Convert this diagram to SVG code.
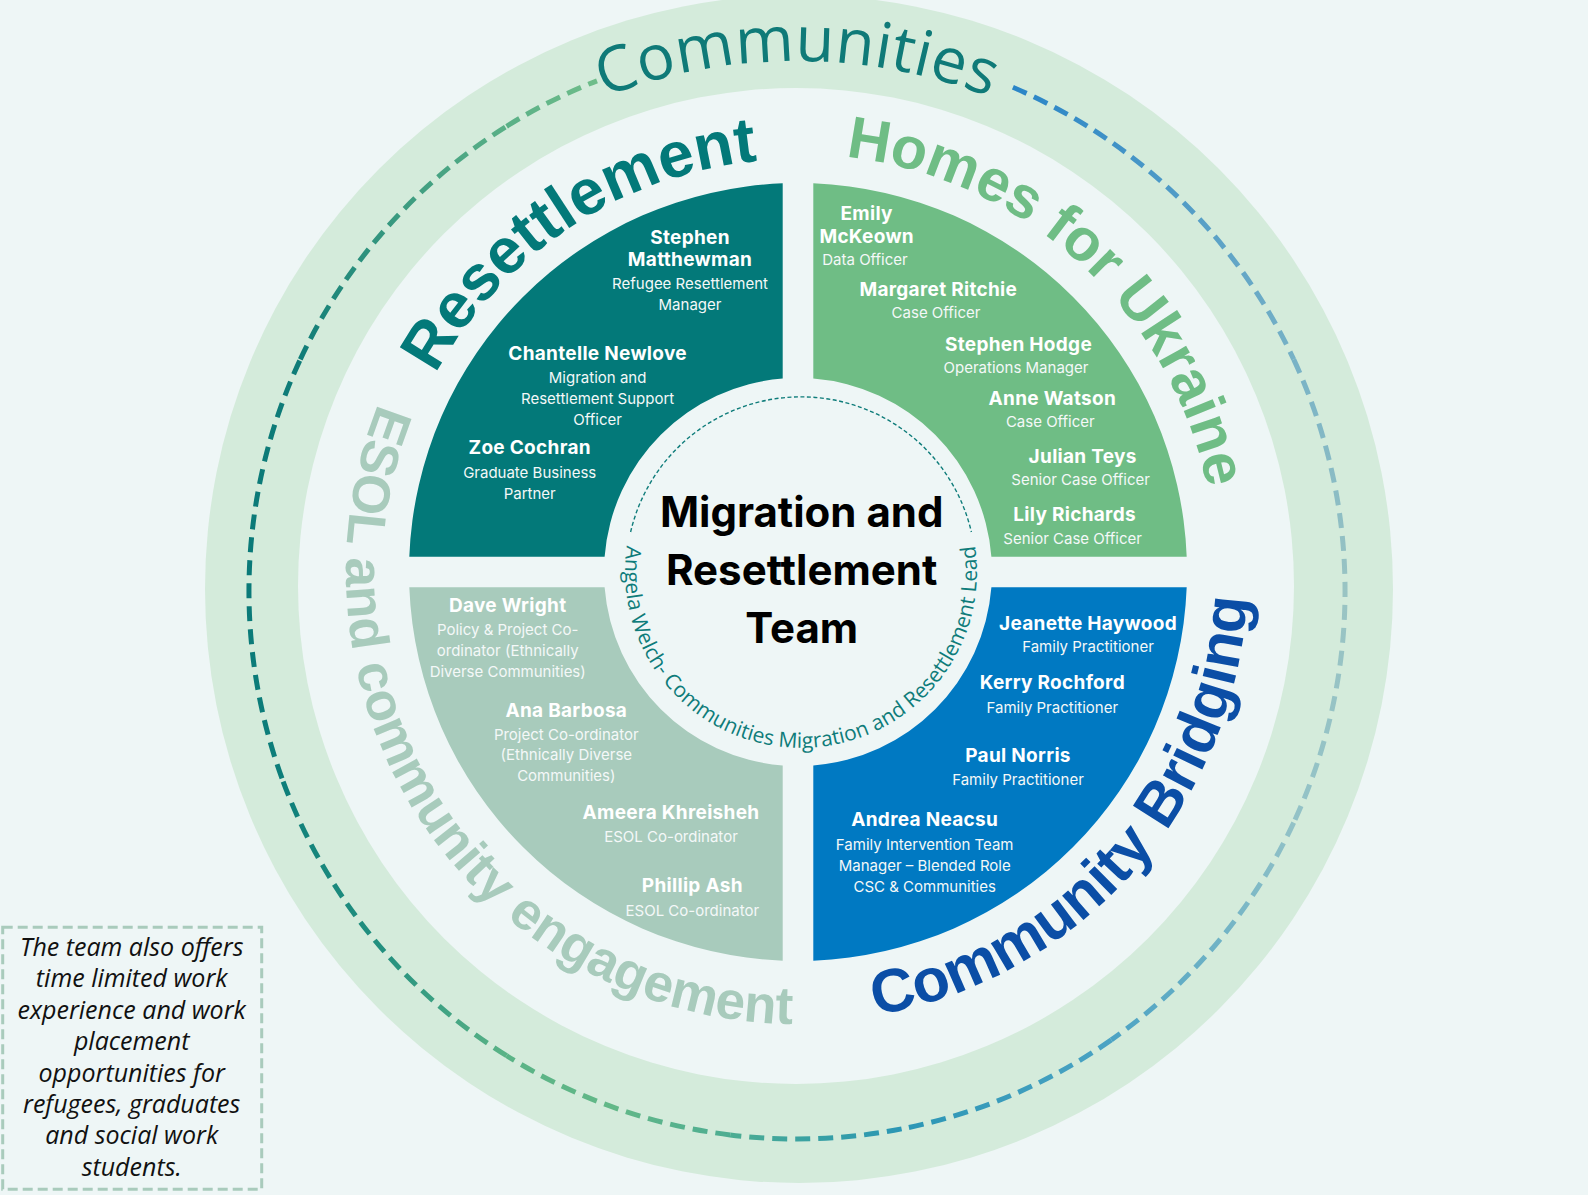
<svg xmlns="http://www.w3.org/2000/svg" width="1588" height="1195" viewBox="0 0 1588 1195">
<defs>
<style>
.nm{font-family:Inter,"Noto Sans",sans-serif;font-weight:700;font-size:19px;fill:#ffffff;text-anchor:middle;letter-spacing:0.3px}
.rl{font-family:Inter,"Noto Sans",sans-serif;font-weight:400;font-size:15px;fill:#f4f8f8;text-anchor:middle}
.lbl{font-family:"Liberation Sans",Arial,sans-serif;font-weight:700}
.note{font-family:"Open Sans","Noto Sans",sans-serif;font-style:italic;font-size:25px;fill:#111111;text-anchor:middle}
.ttl{font-family:Inter,"Noto Sans",sans-serif;font-weight:700;font-size:42px;fill:#000000;text-anchor:middle}
.dash{fill:none;stroke-width:5;stroke-dasharray:15 8}
</style>
<path id="pComm" d="M 338,326 A 530 530 0 0 1 1256,326"/>
<path id="pRes" d="M 387.7,525.2 A 413 413 0 0 1 915.3,176"/>
<path id="pHom" d="M 739.8,158.1 A 418 418 0 0 1 1215.7,586.6"/>
<path id="pEsol" d="M 391.1,375.3 A 452 452 0 0 0 831.1,1022.8"/>
<path id="pCb" d="M 710.6,1013.4 A 450 450 0 0 0 1224,427"/>
<path id="pLead" d="M 628.2,538.4 A 176 176 0 1 0 973.8,538.4"/>
<linearGradient id="g1" gradientUnits="userSpaceOnUse" x1="1012.9" y1="87.3" x2="1293.7" y2="359.4"><stop offset="0" stop-color="#2A85C7"/><stop offset="1" stop-color="#78B2C6"/></linearGradient>
<linearGradient id="g2" gradientUnits="userSpaceOnUse" x1="1293.7" y1="359.4" x2="1293.7" y2="822.6"><stop offset="0" stop-color="#78B2C6"/><stop offset="0.5" stop-color="#9AC4C3"/><stop offset="1" stop-color="#93C2C7"/></linearGradient>
<linearGradient id="g3" gradientUnits="userSpaceOnUse" x1="1293.7" y1="822.6" x2="1111.3" y2="1039.9"><stop offset="0" stop-color="#93C2C7"/><stop offset="1" stop-color="#4CA3C4"/></linearGradient>
<linearGradient id="g4" gradientUnits="userSpaceOnUse" x1="1111.3" y1="1039.9" x2="901.6" y2="1128.9"><stop offset="0" stop-color="#4CA3C4"/><stop offset="1" stop-color="#2B96B5"/></linearGradient>
<linearGradient id="g5" gradientUnits="userSpaceOnUse" x1="901.6" y1="1128.9" x2="730.2" y2="1134.9"><stop offset="0" stop-color="#2B96B5"/><stop offset="0.5" stop-color="#38A0A4"/><stop offset="1" stop-color="#4DAD92"/></linearGradient>
<linearGradient id="g6" gradientUnits="userSpaceOnUse" x1="730.2" y1="1134.9" x2="506.6" y2="1055.7"><stop offset="0" stop-color="#4DAD92"/><stop offset="0.5" stop-color="#63B888"/><stop offset="1" stop-color="#5AB386"/></linearGradient>
<linearGradient id="g7" gradientUnits="userSpaceOnUse" x1="506.6" y1="1055.7" x2="282" y2="778.4"><stop offset="0" stop-color="#5AB386"/><stop offset="0.45" stop-color="#23907F"/><stop offset="1" stop-color="#0D7E7A"/></linearGradient>
<linearGradient id="g8" gradientUnits="userSpaceOnUse" x1="282" y1="778.4" x2="300.3" y2="359.4"><stop offset="0" stop-color="#0D7E7A"/><stop offset="0.5" stop-color="#0A7978"/><stop offset="1" stop-color="#0F7C78"/></linearGradient>
<linearGradient id="g9" gradientUnits="userSpaceOnUse" x1="300.3" y1="359.4" x2="506.6" y2="126.3"><stop offset="0" stop-color="#0F7C78"/><stop offset="0.55" stop-color="#3A9A80"/><stop offset="1" stop-color="#5AB087"/></linearGradient>
<linearGradient id="g10" gradientUnits="userSpaceOnUse" x1="506.6" y1="126.3" x2="597" y2="80.8"><stop offset="0" stop-color="#5AB087"/><stop offset="1" stop-color="#6FBD8A"/></linearGradient>
</defs>

<rect x="0" y="0" width="1588" height="1195" fill="#EEF6F6"/>

<g id="outer-ring">
<circle cx="799" cy="589" r="594" fill="#D4EBDB"/>
<circle cx="796" cy="586" r="498" fill="#EEF6F6"/>
</g>

<g id="connectors">
<path class="dash" stroke="url(#g1)" d="M 1012.9,87.3 A 548 548 0 0 1 1293.7,359.4"/>
<path class="dash" stroke="url(#g2)" d="M 1293.7,359.4 A 548 548 0 0 1 1293.7,822.6"/>
<path class="dash" stroke="url(#g3)" d="M 1293.7,822.6 A 548 548 0 0 1 1111.3,1039.9"/>
<path class="dash" stroke="url(#g4)" d="M 1111.3,1039.9 A 548 548 0 0 1 901.6,1128.9"/>
<path class="dash" stroke="url(#g5)" d="M 901.6,1128.9 A 548 548 0 0 1 730.2,1134.9"/>
<path class="dash" stroke="url(#g6)" d="M 730.2,1134.9 A 548 548 0 0 1 506.6,1055.7"/>
<path class="dash" stroke="url(#g7)" d="M 506.6,1055.7 A 548 548 0 0 1 282,778.4"/>
<path class="dash" stroke="url(#g8)" d="M 282,778.4 A 548 548 0 0 1 300.3,359.4"/>
<path class="dash" stroke="url(#g9)" d="M 300.3,359.4 A 548 548 0 0 1 506.6,126.3"/>
<path class="dash" stroke="url(#g10)" d="M 506.6,126.3 A 548 548 0 0 1 597,80.8"/>
<path fill="none" stroke="#0E7C7A" stroke-width="1.4" stroke-dasharray="4 2.5" d="M 630.6,532 A 175 175 0 0 1 971.4,532"/>
</g>

<g id="communities-label">
<text font-family="'Open Sans','Noto Sans',sans-serif" font-size="63" fill="#0F7A78" letter-spacing="0.3"><textPath href="#pComm" startOffset="50%" text-anchor="middle">Communities</textPath></text>
</g>

<g id="resettlement">
<path fill="#037979" d="M 782.7,183.3 L 782.7,378.6 A 194 194 0 0 0 604.6,556.7 L 409.3,556.7 A 389 389 0 0 1 782.7,183.3 Z"/>
<text class="lbl" font-size="64" fill="#037979"><textPath href="#pRes" startOffset="50%" text-anchor="middle">Resettlement</textPath></text>
<text class="nm" x="690" y="243.5">Stephen</text>
<text class="nm" x="690" y="266">Matthewman</text>
<text class="rl" x="690" y="289">Refugee Resettlement</text>
<text class="rl" x="690" y="310">Manager</text>
<text class="nm" x="597.6" y="359.5">Chantelle Newlove</text>
<text class="rl" x="597.6" y="382.5">Migration and</text>
<text class="rl" x="597.6" y="403.5">Resettlement Support</text>
<text class="rl" x="597.6" y="424.5">Officer</text>
<text class="nm" x="529.7" y="454">Zoe Cochran</text>
<text class="rl" x="529.7" y="478">Graduate Business</text>
<text class="rl" x="529.7" y="498.5">Partner</text>
</g>

<g id="homes-for-ukraine">
<path fill="#6FBD85" d="M 813.3,183.3 A 389 389 0 0 1 1186.7,556.7 L 991.4,556.7 A 194 194 0 0 0 813.3,378.6 Z"/>
<text class="lbl" font-size="59" fill="#6FBD85"><textPath href="#pHom" startOffset="50.5%" text-anchor="middle">Homes for Ukraine</textPath></text>
<text class="nm" x="866.7" y="219.5">Emily</text>
<text class="nm" x="866.7" y="243">McKeown</text>
<text class="rl" x="865" y="265">Data Officer</text>
<text class="nm" x="938.3" y="296">Margaret Ritchie</text>
<text class="rl" x="936" y="318">Case Officer</text>
<text class="nm" x="1018.5" y="351">Stephen Hodge</text>
<text class="rl" x="1016" y="373">Operations Manager</text>
<text class="nm" x="1052.3" y="405">Anne Watson</text>
<text class="rl" x="1050.3" y="426.5">Case Officer</text>
<text class="nm" x="1082.7" y="463">Julian Teys</text>
<text class="rl" x="1080.6" y="485.3">Senior Case Officer</text>
<text class="nm" x="1074.6" y="521">Lily Richards</text>
<text class="rl" x="1072.6" y="544">Senior Case Officer</text>
</g>

<g id="esol-community-engagement">
<path fill="#A8CBBC" d="M 409.3,587.3 L 604.6,587.3 A 194 194 0 0 0 782.7,765.4 L 782.7,960.7 A 389 389 0 0 1 409.3,587.3 Z"/>
<text class="lbl" font-size="53" fill="#A8CBBC"><textPath href="#pEsol" startOffset="49.6%" text-anchor="middle">ESOL and community engagement</textPath></text>
<text class="nm" x="507.7" y="612.2">Dave Wright</text>
<text class="rl" x="507.7" y="635.2">Policy &amp; Project Co-</text>
<text class="rl" x="507.7" y="656.2">ordinator (Ethnically</text>
<text class="rl" x="507.7" y="677.3">Diverse Communities)</text>
<text class="nm" x="566.3" y="716.7">Ana Barbosa</text>
<text class="rl" x="566.3" y="739.7">Project Co-ordinator</text>
<text class="rl" x="566.3" y="760.3">(Ethnically Diverse</text>
<text class="rl" x="566.3" y="781.4">Communities)</text>
<text class="nm" x="671" y="818.9">Ameera Khreisheh</text>
<text class="rl" x="671" y="841.8">ESOL Co-ordinator</text>
<text class="nm" x="692.3" y="892.4">Phillip Ash</text>
<text class="rl" x="692.3" y="915.7">ESOL Co-ordinator</text>
</g>

<g id="community-bridging">
<path fill="#0079C2" d="M 813.3,765.4 L 813.3,960.7 A 389 389 0 0 0 1186.7,587.3 L 991.4,587.3 A 194 194 0 0 1 813.3,765.4 Z"/>
<text class="lbl" font-size="61" fill="#0B4EA6"><textPath href="#pCb" startOffset="49.6%" text-anchor="middle">Community Bridging</textPath></text>
<text class="nm" x="1088" y="630.2">Jeanette Haywood</text>
<text class="rl" x="1088" y="652.4">Family Practitioner</text>
<text class="nm" x="1052.3" y="688.8">Kerry Rochford</text>
<text class="rl" x="1052.3" y="712.5">Family Practitioner</text>
<text class="nm" x="1018" y="762.2">Paul Norris</text>
<text class="rl" x="1018" y="785.2">Family Practitioner</text>
<text class="nm" x="924.7" y="825.8">Andrea Neacsu</text>
<text class="rl" x="924.7" y="849.9">Family Intervention Team</text>
<text class="rl" x="924.7" y="870.6">Manager – Blended Role</text>
<text class="rl" x="924.7" y="891.6">CSC &amp; Communities</text>
</g>

<g id="team-centre">
<text class="ttl" x="801.7" y="527.3">Migration and</text>
<text class="ttl" x="801.7" y="585">Resettlement</text>
<text class="ttl" x="801.7" y="642.7">Team</text>
<text font-family="'Open Sans','Noto Sans',sans-serif" font-size="21" fill="#0E7C7A"><textPath href="#pLead" startOffset="50%" text-anchor="middle">Angela Welch- Communities Migration and Resettlement Lead</textPath></text>
</g>

<g id="note">
<rect x="2.7" y="927.3" width="259" height="262" fill="none" stroke="#A9CBBC" stroke-width="3" stroke-dasharray="10 5"/>
<text class="note" x="131.7" y="956">The team also offers</text>
<text class="note" x="131.7" y="987.4">time limited work</text>
<text class="note" x="131.7" y="1018.8">experience and work</text>
<text class="note" x="131.7" y="1050.2">placement</text>
<text class="note" x="131.7" y="1081.6">opportunities for</text>
<text class="note" x="131.7" y="1113">refugees, graduates</text>
<text class="note" x="131.7" y="1144.4">and social work</text>
<text class="note" x="131.7" y="1175.8">students.</text>
</g>
</svg>
